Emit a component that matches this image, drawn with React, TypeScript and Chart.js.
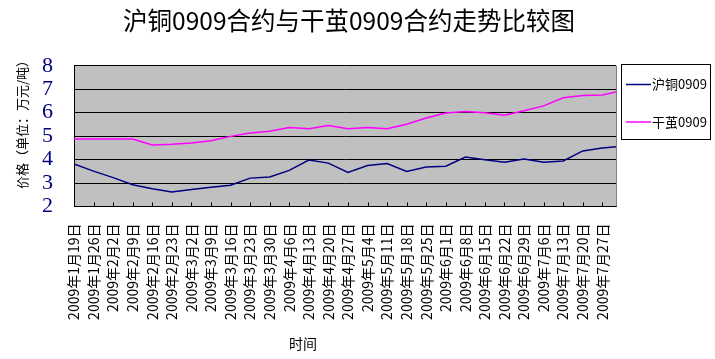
import React, { useEffect, useRef } from 'react';
import { Chart, registerables } from 'chart.js';

Chart.register(...registerables);

// ---- data ----
const categories = [
  '2009年1月19日', '2009年1月26日', '2009年2月2日', '2009年2月9日', '2009年2月16日',
  '2009年2月23日', '2009年3月2日', '2009年3月9日', '2009年3月16日', '2009年3月23日',
  '2009年3月30日', '2009年4月6日', '2009年4月13日', '2009年4月20日', '2009年4月27日',
  '2009年5月4日', '2009年5月11日', '2009年5月18日', '2009年5月25日', '2009年6月1日',
  '2009年6月8日', '2009年6月15日', '2009年6月22日', '2009年6月29日', '2009年7月6日',
  '2009年7月13日', '2009年7月20日', '2009年7月27日', '2009年8月3日',
];

const copperValues = [
  3.81, 3.51, 3.23, 2.93, 2.76, 2.62, 2.72, 2.82, 2.91, 3.21,
  3.26, 3.54, 3.98, 3.85, 3.45, 3.75, 3.83, 3.49, 3.68, 3.72,
  4.11, 3.99, 3.89, 4.02, 3.89, 3.94, 4.37, 4.49, 4.57,
];

const cocoonValues = [
  4.88, 4.88, 4.88, 4.88, 4.62, 4.65, 4.71, 4.80, 4.99, 5.13,
  5.21, 5.37, 5.32, 5.45, 5.32, 5.37, 5.32, 5.51, 5.77, 5.99,
  6.05, 6.00, 5.89, 6.08, 6.29, 6.64, 6.73, 6.76, 6.94,
];

const seriesNames = ['沪铜0909', '干茧0909'];
const seriesColors = ['#000080', '#FF00FF'];
const chartTitle = '沪铜0909合约与干茧0909合约走势比较图';
const xAxisTitle = '时间';
const yAxisTitle = '价格（单位：万元/吨）';
const yMin = 2;
const yMax = 8;
const yStep = 1;

const CJK = '"Noto Sans CJK SC", "Noto Sans", sans-serif';

const plotBackground = {
  id: 'plotBackground',
  beforeDraw(chart: any) {
    const { ctx, chartArea } = chart;
    ctx.save();
    ctx.fillStyle = '#C0C0C0';
    ctx.fillRect(chartArea.left, chartArea.top, chartArea.right - chartArea.left, chartArea.bottom - chartArea.top);
    ctx.restore();
  },
};

const decorations = {
  id: 'decorations',
  afterDraw(chart: any) {
    const { ctx, chartArea } = chart;
    const xs = chart.scales.x;
    ctx.save();
    // inside tick marks on category axis
    ctx.strokeStyle = '#000';
    ctx.lineWidth = 1;
    xs.ticks.forEach((t: any, i: number) => {
      if (i === 0) return;
      const px = Math.round(xs.getPixelForValue(t.value)) + 0.5;
      ctx.beginPath();
      ctx.moveTo(px, chartArea.bottom);
      ctx.lineTo(px, chartArea.bottom - 4);
      ctx.stroke();
    });
    // right border of plot area
    ctx.strokeStyle = '#808080';
    ctx.beginPath();
    ctx.moveTo(Math.round(chartArea.right) + 0.5, chartArea.top);
    ctx.lineTo(Math.round(chartArea.right) + 0.5, chartArea.bottom);
    ctx.stroke();

    // axis titles
    ctx.fillStyle = '#000';
    ctx.textAlign = 'center';
    ctx.textBaseline = 'middle';
    ctx.font = '14px ' + CJK;
    ctx.fillText(xAxisTitle, 303, 344);
    ctx.save();
    ctx.translate(22, 121.5);
    ctx.rotate(-Math.PI / 2);
    ctx.font = '13px ' + CJK;
    ctx.fillText(yAxisTitle, 0, 0);
    ctx.restore();

    // legend with frame
    const x0 = Math.round(chartArea.right) + 5;
    const y0 = 64;
    ctx.strokeStyle = '#000';
    ctx.lineWidth = 1;
    ctx.strokeRect(x0 + 0.5, y0 + 0.5, 89, 75);
    ctx.font = '13px ' + CJK;
    ctx.textAlign = 'left';
    chart.data.datasets.forEach((ds: any, i: number) => {
      const cy = y0 + 20.5 + i * 37.5;
      ctx.strokeStyle = ds.borderColor;
      ctx.lineWidth = 1.5;
      ctx.beginPath();
      ctx.moveTo(x0 + 5, cy);
      ctx.lineTo(x0 + 30, cy);
      ctx.stroke();
      ctx.fillStyle = '#000';
      ctx.fillText(ds.label, x0 + 31, cy);
    });
    ctx.restore();
  },
};

export default function App() {
  const canvasRef = useRef<HTMLCanvasElement | null>(null);

  useEffect(() => {
    if (!canvasRef.current) return;
    const makeSeries = (vals: number[]) => vals.map((v, i) => ({ x: i, y: v }));
    const chart = new Chart(canvasRef.current, {
      type: 'line',
      data: {
        datasets: [
          {
            label: seriesNames[0],
            data: makeSeries(copperValues),
            borderColor: seriesColors[0],
            backgroundColor: seriesColors[0],
            borderWidth: 1.5,
            pointRadius: 0,
            tension: 0,
            clip: 0,
          },
          {
            label: seriesNames[1],
            data: makeSeries(cocoonValues),
            borderColor: seriesColors[1],
            backgroundColor: seriesColors[1],
            borderWidth: 1.5,
            pointRadius: 0,
            tension: 0,
            clip: 0,
          },
        ],
      },
      options: {
        animation: false,
        responsive: true,
        maintainAspectRatio: false,
        layout: { padding: { left: 0, right: 17, top: 0, bottom: 0 } },
        plugins: {
          legend: { display: false },
          tooltip: { enabled: false },
          title: {
            display: true,
            text: chartTitle,
            color: '#000',
            font: { family: CJK, size: 24.5, weight: 'normal' },
            padding: { top: 6, bottom: 30.4 },
          },
        },
        scales: {
          x: {
            type: 'linear',
            min: 0,
            max: 27.7,
            ticks: {
              stepSize: 1,
              includeBounds: false,
              maxTicksLimit: 100,
              autoSkip: false,
              minRotation: 90,
              maxRotation: 90,
              padding: 17,
              color: '#000',
              font: { family: CJK, size: 14 },
              callback: (v: any) => categories[v] ?? '',
            },
            grid: { drawOnChartArea: false, drawTicks: false },
            border: { color: '#000', width: 1 },
            afterFit: (s: any) => { s.height = 152.5; },
          },
          y: {
            min: yMin,
            max: yMax,
            ticks: {
              stepSize: yStep,
              autoSkip: false,
              color: '#000080',
              padding: 21,
              font: { family: '"Liberation Serif", serif', size: 22 },
            },
            grid: { color: '#000', lineWidth: 1, drawTicks: false },
            border: { color: '#000', width: 1 },
            afterFit: (s: any) => { s.width = 74; },
          },
          legendSpace: {
            type: 'linear',
            position: 'right',
            display: true,
            ticks: { display: false },
            grid: { display: false, drawTicks: false },
            border: { display: false },
            afterFit: (s: any) => { s.width = 82; },
          },
        },
      },
      plugins: [plotBackground, decorations],
    } as any);
    return () => chart.destroy();
  }, []);

  return (
    <div style={{ position: 'fixed', left: 0, top: 0, width: 715, height: 359, background: '#fff' }}>
      <canvas ref={canvasRef} />
    </div>
  );
}
